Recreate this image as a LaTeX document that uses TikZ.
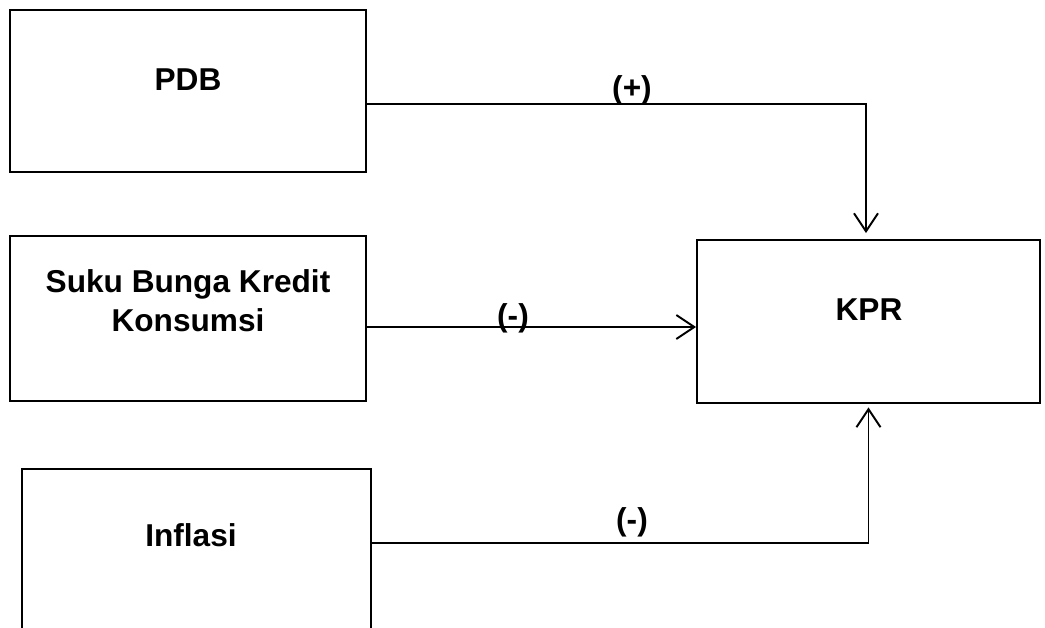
\documentclass[tikz,border=0pt]{standalone}
\usepackage{fontspec}
\setmainfont{Liberation Sans}
\usetikzlibrary{arrows.meta}

\tikzset{
  box/.style={draw, line width=1.1pt, rectangle, inner sep=0pt},
  lbl/.style={font=\fontsize{18}{22}\selectfont\bfseries, align=center},
  link/.style={line width=1.1pt, -{Straight Barb[length=3.6mm, width=4.8mm, line width=1.1pt]}}
}

\begin{document}
\begin{tikzpicture}[x=0.02cm, y=-0.02cm]
    \clip (0,0) rectangle (1045,627);

    \draw (188,91) node[box, minimum width=7.12cm, minimum height=3.24cm] (pdb) {};
    \draw (188,318.5) node[box, minimum width=7.12cm, minimum height=3.3cm] (suku) {};
    \draw (196.5,553) node[box, minimum width=6.98cm, minimum height=3.36cm] (infl) {};
    \draw (868.5,321.5) node[box, minimum width=6.86cm, minimum height=3.26cm] (kpr) {};

    \draw (188,80) node[lbl] (pdbtxt) {PDB};
    \draw (188,301) node[lbl] (sukutxt) {Suku Bunga Kredit\\Konsumsi};
    \draw (191,535) node[lbl] (infltxt) {Inflasi};
    \draw (869,310) node[lbl] (kprtxt) {KPR};

    \draw[link, shorten >=0.12cm] ([yshift=-0.26cm]pdb.east) -| ([xshift=-0.05cm]kpr.north);
    \draw[link] ([yshift=-0.17cm]suku.east) -- ([yshift=-0.17cm]suku.east -| kpr.west);
    \draw[link, shorten >=0.07cm] ([yshift=0.2cm]infl.east) -| (kpr.south);

    \draw (632,90) node[lbl] (plus) {(+)};
    \draw (513,318) node[lbl] (minus1) {(-)};
    \draw (632,522) node[lbl] (minus2) {(-)};
\end{tikzpicture}
\end{document}
